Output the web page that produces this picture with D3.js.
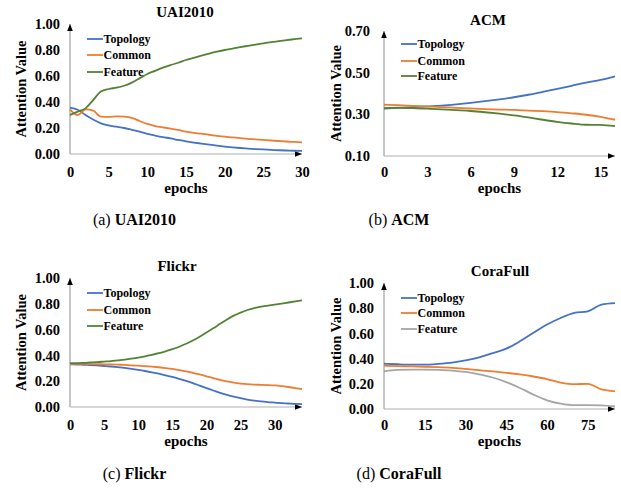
<!DOCTYPE html>
<html>
<head>
<meta charset="utf-8">
<script src="https://cdn.jsdelivr.net/npm/d3@7"></script>
<style>
  body { margin: 0; background: #fff; }
  text { font-family: "Liberation Serif", "Times New Roman", serif; }
</style>
</head>
<body>
<svg id="chart" width="621" height="489"></svg>
<script>
// ---------------- data
const seriesNames = ["Topology", "Common", "Feature"];

const uaiEpochs = [0,1,2,3,4,5,6,7,8,9,10,11,12,13,14,15,16,17,18,19,20,21,22,23,24,25,26,27,28,29,30];
const uaiTopology = [0.356,0.34,0.30,0.265,0.236,0.22,0.21,0.20,0.186,0.172,0.155,0.142,0.13,0.12,0.108,0.097,0.088,0.08,0.072,0.064,0.057,0.051,0.046,0.042,0.038,0.035,0.032,0.029,0.027,0.025,0.024];
const uaiCommon = [0.344,0.30,0.344,0.333,0.287,0.285,0.29,0.287,0.277,0.254,0.231,0.215,0.205,0.195,0.185,0.172,0.163,0.156,0.148,0.14,0.133,0.128,0.122,0.117,0.112,0.108,0.104,0.1,0.096,0.093,0.09];
const uaiFeature = [0.30,0.326,0.351,0.415,0.48,0.50,0.51,0.525,0.549,0.582,0.615,0.64,0.664,0.684,0.702,0.723,0.74,0.757,0.773,0.787,0.80,0.811,0.822,0.832,0.842,0.851,0.86,0.868,0.876,0.883,0.89];

const acmEpochs = [0,1,2,3,4,5,6,7,8,9,10,11,12,13,14,15,16];
const acmTopology = [0.330,0.332,0.334,0.338,0.342,0.348,0.355,0.363,0.372,0.382,0.394,0.408,0.422,0.437,0.452,0.465,0.482];
const acmCommon = [0.346,0.344,0.341,0.338,0.335,0.331,0.328,0.325,0.323,0.321,0.318,0.315,0.311,0.305,0.298,0.288,0.274];
const acmFeature = [0.328,0.331,0.330,0.327,0.324,0.320,0.316,0.310,0.303,0.295,0.285,0.274,0.264,0.256,0.250,0.249,0.243];

const flickrEpochs = [0,1,2,3,4,5,6,7,8,9,10,11,12,13,14,15,16,17,18,19,20,21,22,23,24,25,26,27,28,29,30,31,32,33,34];
const flickrTopology = [0.33,0.329,0.327,0.325,0.322,0.318,0.314,0.309,0.303,0.296,0.288,0.279,0.269,0.258,0.246,0.233,0.218,0.202,0.185,0.166,0.147,0.128,0.11,0.094,0.08,0.068,0.058,0.05,0.043,0.038,0.034,0.03,0.027,0.024,0.022];
const flickrCommon = [0.335,0.335,0.334,0.333,0.332,0.331,0.33,0.328,0.326,0.323,0.32,0.317,0.313,0.308,0.302,0.295,0.286,0.276,0.265,0.252,0.238,0.224,0.21,0.198,0.189,0.182,0.177,0.174,0.172,0.17,0.167,0.162,0.155,0.147,0.138];
const flickrFeature = [0.34,0.34,0.342,0.345,0.348,0.352,0.356,0.362,0.368,0.375,0.383,0.393,0.404,0.417,0.432,0.448,0.467,0.49,0.515,0.545,0.578,0.61,0.645,0.678,0.708,0.732,0.752,0.767,0.778,0.786,0.794,0.802,0.81,0.818,0.826];

const coraEpochs = [0,5,10,15,20,25,30,35,40,45,50,55,60,65,70,75,80,85];
const coraTopology = [0.36,0.355,0.352,0.352,0.358,0.368,0.386,0.41,0.444,0.479,0.537,0.605,0.67,0.722,0.762,0.775,0.828,0.84];
const coraCommon = [0.344,0.34,0.338,0.335,0.332,0.327,0.318,0.308,0.298,0.287,0.274,0.258,0.238,0.21,0.197,0.2,0.155,0.14];
const coraFeature = [0.299,0.31,0.312,0.312,0.31,0.305,0.294,0.275,0.25,0.214,0.167,0.114,0.069,0.042,0.03,0.03,0.028,0.02];

const ticks01 = [0, 0.2, 0.4, 0.6, 0.8, 1.0];
const ticksAcm = [0.1, 0.3, 0.5, 0.7];

// ---------------- panels
const panels = [
  { title: "UAI2010", tag: "(a)", epochs: uaiEpochs, series: [uaiTopology, uaiCommon, uaiFeature],
    colors: ["#4472c4", "#ed7d31", "#548235"],
    x0: 70, x1: 302, yTop: 24, yBot: 154, yDomain: [0, 1], yTicks: ticks01,
    xDomain: [0, 30], xTicks: [0,5,10,15,20,25,30],
    titleX: 185, titleY: 17, tickY: 177, epochsY: 193, ylabX: 21, labGap: 10,
    legX: 87, legY: [39, 55, 72], capX: 134.5, capY: 225 },
  { title: "ACM", tag: "(b)", epochs: acmEpochs, series: [acmTopology, acmCommon, acmFeature],
    colors: ["#4472c4", "#ed7d31", "#548235"],
    x0: 384, x1: 615, yTop: 31, yBot: 156, yDomain: [0.1, 0.7], yTicks: ticksAcm,
    xDomain: [0, 16], xTicks: [0,3,6,9,12,15],
    titleX: 488, titleY: 25, tickY: 177, epochsY: 193, ylabX: 336, labGap: 14,
    legX: 401, legY: [44, 61, 76], capX: 399, capY: 225 },
  { title: "Flickr", tag: "(c)", epochs: flickrEpochs, series: [flickrTopology, flickrCommon, flickrFeature],
    colors: ["#4472c4", "#ed7d31", "#548235"],
    x0: 70, x1: 302, yTop: 278, yBot: 407, yDomain: [0, 1], yTicks: ticks01,
    xDomain: [0, 34], xTicks: [0,5,10,15,20,25,30],
    titleX: 177, titleY: 271, tickY: 430, epochsY: 446, ylabX: 21, labGap: 10,
    legX: 87, legY: [293, 310, 326], capX: 134.5, capY: 479 },
  { title: "CoraFull", tag: "(d)", epochs: coraEpochs, series: [coraTopology, coraCommon, coraFeature],
    colors: ["#4472c4", "#ed7d31", "#a5a5a5"],
    x0: 384, x1: 615, yTop: 283, yBot: 409, yDomain: [0, 1], yTicks: ticks01,
    xDomain: [0, 85], xTicks: [0,15,30,45,60,75],
    titleX: 500, titleY: 276, tickY: 430, epochsY: 446, ylabX: 336, labGap: 10,
    legX: 401, legY: [298, 313, 329], capX: 399, capY: 479 }
];

const svg = d3.select("#chart");

svg.append("defs").append("marker")
    .attr("id", "arrow")
    .attr("viewBox", "0 0 10 10")
    .attr("refX", 10).attr("refY", 5)
    .attr("markerWidth", 7).attr("markerHeight", 7)
    .attr("markerUnits", "userSpaceOnUse")
    .attr("orient", "auto")
  .append("path")
    .attr("d", "M0,1 L10,5 L0,9 Z")
    .attr("fill", "#000");

panels.forEach(function(p) {
  const g = svg.append("g");

  const x = d3.scaleLinear().domain(p.xDomain).range([p.x0, p.x1]);
  const y = d3.scaleLinear().domain(p.yDomain).range([p.yBot, p.yTop]);

  // axis lines with arrows
  g.append("line")
      .attr("x1", p.x0).attr("y1", p.yBot)
      .attr("x2", p.x0).attr("y2", p.yTop)
      .attr("stroke", "#8c8c8c").attr("stroke-width", 1)
      .attr("marker-end", "url(#arrow)");
  g.append("line")
      .attr("x1", p.x0).attr("y1", p.yBot)
      .attr("x2", p.x1).attr("y2", p.yBot)
      .attr("stroke", "#b0b0b0").attr("stroke-width", 1.2)
      .attr("marker-end", "url(#arrow)");

  // y tick labels
  const yAxis = d3.axisLeft(y).tickValues(p.yTicks).tickSize(0).tickPadding(p.labGap)
      .tickFormat(d3.format(".2f"));
  g.append("g")
      .attr("transform", `translate(${p.x0},0)`)
      .call(yAxis)
      .call(a => a.select(".domain").remove())
      .selectAll("text")
        .attr("font-family", "Liberation Serif")
        .attr("font-weight", "bold")
        .attr("font-size", 14.5)
        .attr("fill", "#000");

  // x tick labels
  const xAxis = d3.axisBottom(x).tickValues(p.xTicks).tickSize(0).tickFormat(d3.format("d"));
  g.append("g")
      .attr("transform", `translate(0,${p.tickY})`)
      .call(xAxis)
      .call(a => a.select(".domain").remove())
      .selectAll("text")
        .attr("y", 0).attr("dy", null)
        .attr("font-family", "Liberation Serif")
        .attr("font-weight", "bold")
        .attr("font-size", 14.5)
        .attr("fill", "#000");

  // titles
  g.append("text")
      .text(p.title)
      .attr("x", p.titleX).attr("y", p.titleY)
      .attr("text-anchor", "middle")
      .attr("font-weight", "bold")
      .attr("font-size", 15);

  g.append("text")
      .text("epochs")
      .attr("x", (p.x0 + p.x1) / 2).attr("y", p.epochsY)
      .attr("text-anchor", "middle")
      .attr("font-weight", "bold")
      .attr("font-size", 15);

  g.append("text")
      .text("Attention Value")
      .attr("transform", `translate(${p.ylabX + 5},${(p.yTop + p.yBot) / 2}) rotate(-90)`)
      .attr("text-anchor", "middle")
      .attr("font-weight", "bold")
      .attr("font-size", 14.5);

  // lines
  const line = d3.line()
      .x((d, i) => x(p.epochs[i]))
      .y(d => y(d))
      .curve(d3.curveMonotoneX);

  p.series.forEach(function(vals, k) {
    g.append("path")
        .datum(vals)
        .attr("fill", "none")
        .attr("stroke", p.colors[k])
        .attr("stroke-width", 1.8)
        .attr("stroke-linejoin", "round")
        .attr("d", line);
  });

  // legend
  seriesNames.forEach(function(name, k) {
    g.append("line")
        .attr("x1", p.legX).attr("x2", p.legX + 16)
        .attr("y1", p.legY[k]).attr("y2", p.legY[k])
        .attr("stroke", p.colors[k]).attr("stroke-width", 1.8);
    g.append("text")
        .text(name)
        .attr("x", p.legX + 16.5).attr("y", p.legY[k] + 4)
        .attr("font-weight", "bold")
        .attr("font-size", 12);
  });

  // caption
  const cap = svg.append("text")
      .attr("x", p.capX).attr("y", p.capY)
      .attr("text-anchor", "middle")
      .attr("font-size", 16);
  cap.append("tspan").text(p.tag + " ");
  cap.append("tspan").attr("font-weight", "bold").text(p.title);
});
</script>
</body>
</html>
